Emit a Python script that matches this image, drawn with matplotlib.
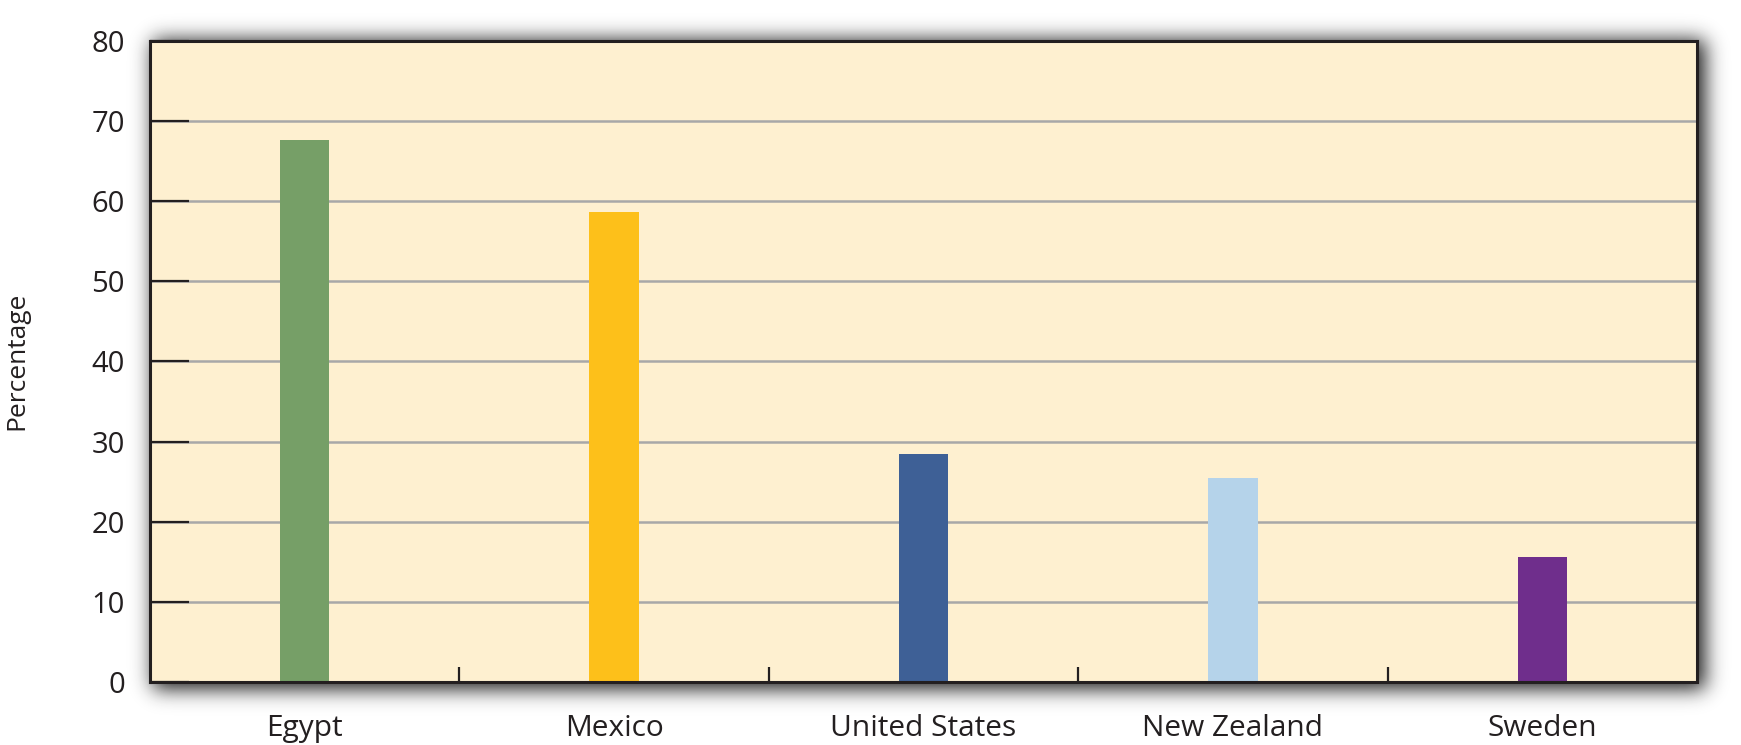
import numpy as np
import matplotlib
matplotlib.use("Agg")
import matplotlib.pyplot as plt

# ---- data ----
categories = ["Egypt", "Mexico", "United States", "New Zealand", "Sweden"]
values = [67.7, 58.7, 28.4, 25.4, 15.6]
bar_colors = ["#769f67", "#fdc01a", "#3e6096", "#b5d3ea", "#6f2e8c"]
y_ticks = [0, 10, 20, 30, 40, 50, 60, 70, 80]
y_label = "Percentage"

W, H, DPI = 1741, 745, 100
plt.rcParams['font.family'] = ['Open Sans', 'DejaVu Sans']
text_color = "#231f20"

fig = plt.figure(figsize=(W / DPI, H / DPI), dpi=DPI)
fig.patch.set_facecolor("white")

# axes box in pixels
L, R, T, B = 150, 1697, 41, 682
ax = fig.add_axes([L / W, 1 - B / H, (R - L) / W, (B - T) / H])

# ---- drop shadow (blurred rectangle) ----
def blur1d(n, a, b, sigma):
    ind = np.zeros(n)
    ind[max(a, 0):min(b, n)] = 1.0
    k = np.arange(-4 * sigma, 4 * sigma + 1)
    g = np.exp(-0.5 * (k / sigma) ** 2)
    g /= g.sum()
    return np.convolve(ind, g, mode="same")

sig = 10
fx = blur1d(W, L + 3, R + 8, sig)
fy = blur1d(H, T - 1, B + 7, sig)   # rows from top
alpha = np.outer(fy, fx) * 1.0
img = np.zeros((H, W, 4))
img[..., 0:3] = 0.1
img[..., 3] = alpha
fig.figimage(img, xo=0, yo=0, origin="upper", zorder=-1)

# ---- bars ----
x = np.arange(len(categories))
ax.bar(x, values, width=0.16, color=bar_colors, zorder=2)

ax.set_facecolor("#fef0d0")
ax.set_xlim(-0.5, len(categories) - 0.5)
ax.set_ylim(0, 80)

ax.set_yticks(y_ticks)
ax.set_yticklabels([str(t) for t in y_ticks])
ax.tick_params(axis="y", direction="in", length=28, width=1.6, color=text_color,
               labelsize=21, labelcolor=text_color, pad=18)
ax.yaxis.grid(True, color="#a8a8a8", linewidth=1.8)
ax.set_axisbelow(True)

# category labels at centers, tick marks between categories
ax.set_xticks(x)
ax.set_xticklabels(categories)
ax.tick_params(axis="x", which="major", length=0, labelsize=21.5,
               labelcolor=text_color, pad=23)
ax.set_xticks(x[:-1] + 0.5, minor=True)
ax.tick_params(axis="x", which="minor", direction="in", length=11, width=1.6,
               color=text_color)

for s in ax.spines.values():
    s.set_linewidth(2.2)
    s.set_color(text_color)
    s.set_zorder(3)

fig.text(17 / W, 1 - 361 / H, y_label, rotation=90, ha="center", va="center",
         fontsize=19, color=text_color)

fig.savefig("out.png", dpi=DPI)
